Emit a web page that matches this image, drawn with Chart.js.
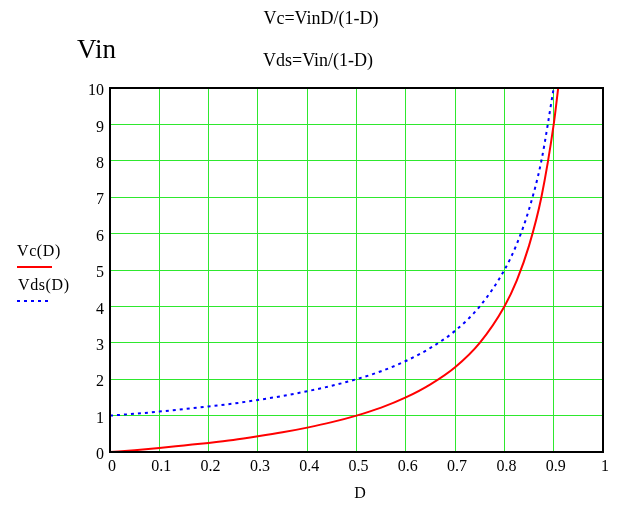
<!DOCTYPE html>
<html>
<head>
<meta charset="utf-8">
<script src="https://cdn.jsdelivr.net/npm/chart.js@4.4.0/dist/chart.umd.min.js"></script>
<style>
  html, body { margin: 0; padding: 0; background: #fff; }
  #wrap { width: 626px; height: 506px; }
</style>
</head>
<body>
<div id="wrap"><canvas id="c" width="626" height="506"></canvas></div>
<script>
// D values and the two curves
var dVals = [0, 0.05, 0.1, 0.15, 0.2, 0.25, 0.3, 0.35, 0.4, 0.45, 0.5, 0.55, 0.6, 0.65, 0.7, 0.75, 0.8, 0.825, 0.85, 0.875, 0.9, 0.91];
var vc = [0, 0.05, 0.11, 0.18, 0.25, 0.33, 0.43, 0.54, 0.67, 0.82, 1.0, 1.22, 1.5, 1.86, 2.33, 3.0, 4.0, 4.71, 5.67, 7.0, 9.0, 10.1];
var vds = [1.0, 1.05, 1.11, 1.18, 1.25, 1.33, 1.43, 1.54, 1.67, 1.82, 2.0, 2.22, 2.5, 2.86, 3.33, 4.0, 5.0, 5.71, 6.67, 8.0, 10.0, null];
var xTicks = ['0', '0.1', '0.2', '0.3', '0.4', '0.5', '0.6', '0.7', '0.8', '0.9', '1'];
var yTicks = ['0', '1', '2', '3', '4', '5', '6', '7', '8', '9', '10'];

function pts(ys) {
  var out = [];
  for (var i = 0; i < dVals.length; i++) {
    if (ys[i] !== null) out.push({x: dVals[i], y: ys[i]});
  }
  return out;
}

var serif = '"Liberation Serif", "DejaVu Serif", serif';

var textPlugin = {
  id: 'texts',
  afterDraw: function(chart) {
    var ctx = chart.ctx;
    var a = chart.chartArea;
    ctx.save();
    // frame
    ctx.strokeStyle = '#000';
    ctx.lineWidth = 2;
    ctx.strokeRect(a.left, a.top, a.right - a.left, a.bottom - a.top);

    ctx.fillStyle = '#000';
    ctx.textAlign = 'center';
    ctx.textBaseline = 'alphabetic';
    ctx.font = '18px ' + serif;
    ctx.fillText('Vc=VinD/(1-D)', 321, 24);
    ctx.fillText('Vds=Vin/(1-D)', 318, 66);
    ctx.font = '16px ' + serif;
    ctx.fillText('D', 360, 498);

    ctx.font = '27px ' + serif;
    ctx.textAlign = 'left';
    ctx.fillText('Vin', 77, 58);

    // legend
    ctx.font = '16px ' + serif;
    ctx.letterSpacing = '0.6px';
    ctx.fillText('Vc(D)', 17, 256);
    ctx.fillText('Vds(D)', 18, 290);
    ctx.strokeStyle = '#ff0000';
    ctx.lineWidth = 2;
    ctx.beginPath();
    ctx.moveTo(17, 267);
    ctx.lineTo(52, 267);
    ctx.stroke();
    ctx.strokeStyle = '#0000ff';
    ctx.setLineDash([3, 4]);
    ctx.beginPath();
    ctx.moveTo(17, 301);
    ctx.lineTo(52, 301);
    ctx.stroke();
    ctx.restore();
  }
};

var chart = new Chart(document.getElementById('c'), {
  type: 'line',
  data: {
    datasets: [
      {
        label: 'Vc(D)',
        data: pts(vc),
        borderColor: '#ff0000',
        borderWidth: 2,
        pointRadius: 0,
        cubicInterpolationMode: 'monotone',
        fill: false
      },
      {
        label: 'Vds(D)',
        data: pts(vds),
        borderColor: '#0000ff',
        borderWidth: 2,
        borderDash: [3, 4],
        pointRadius: 0,
        cubicInterpolationMode: 'monotone',
        fill: false
      }
    ]
  },
  options: {
    responsive: false,
    animation: false,
    layout: { padding: { left: 80, right: 23, top: 88, bottom: 0 } },
    plugins: {
      legend: { display: false },
      tooltip: { enabled: false }
    },
    scales: {
      x: {
        type: 'linear',
        min: 0,
        max: 1,
        afterFit: function(s) { s.height = 54; },
        afterBuildTicks: function(s) {
          s.ticks = xTicks.map(function(t) { return {value: parseFloat(t)}; });
        },
        ticks: {
          color: '#000',
          font: { family: serif, size: 16 },
          padding: 5,
          labelOffset: 2,
          maxRotation: 0,
          callback: function(v, i) { return xTicks[i]; }
        },
        grid: { color: '#2ee82e', lineWidth: 1, drawTicks: false },
        border: { color: '#000', width: 2 }
      },
      y: {
        min: 0,
        max: 10,
        afterFit: function(s) { s.width = 30; },
        afterBuildTicks: function(s) {
          s.ticks = yTicks.map(function(t) { return {value: parseFloat(t)}; });
        },
        ticks: {
          color: '#000',
          font: { family: serif, size: 16 },
          padding: 6,
          labelOffset: 3,
          callback: function(v, i) { return yTicks[i]; }
        },
        grid: { color: '#2ee82e', lineWidth: 1, drawTicks: false },
        border: { color: '#000', width: 2 }
      }
    }
  },
  plugins: [textPlugin]
});
</script>
</body>
</html>
